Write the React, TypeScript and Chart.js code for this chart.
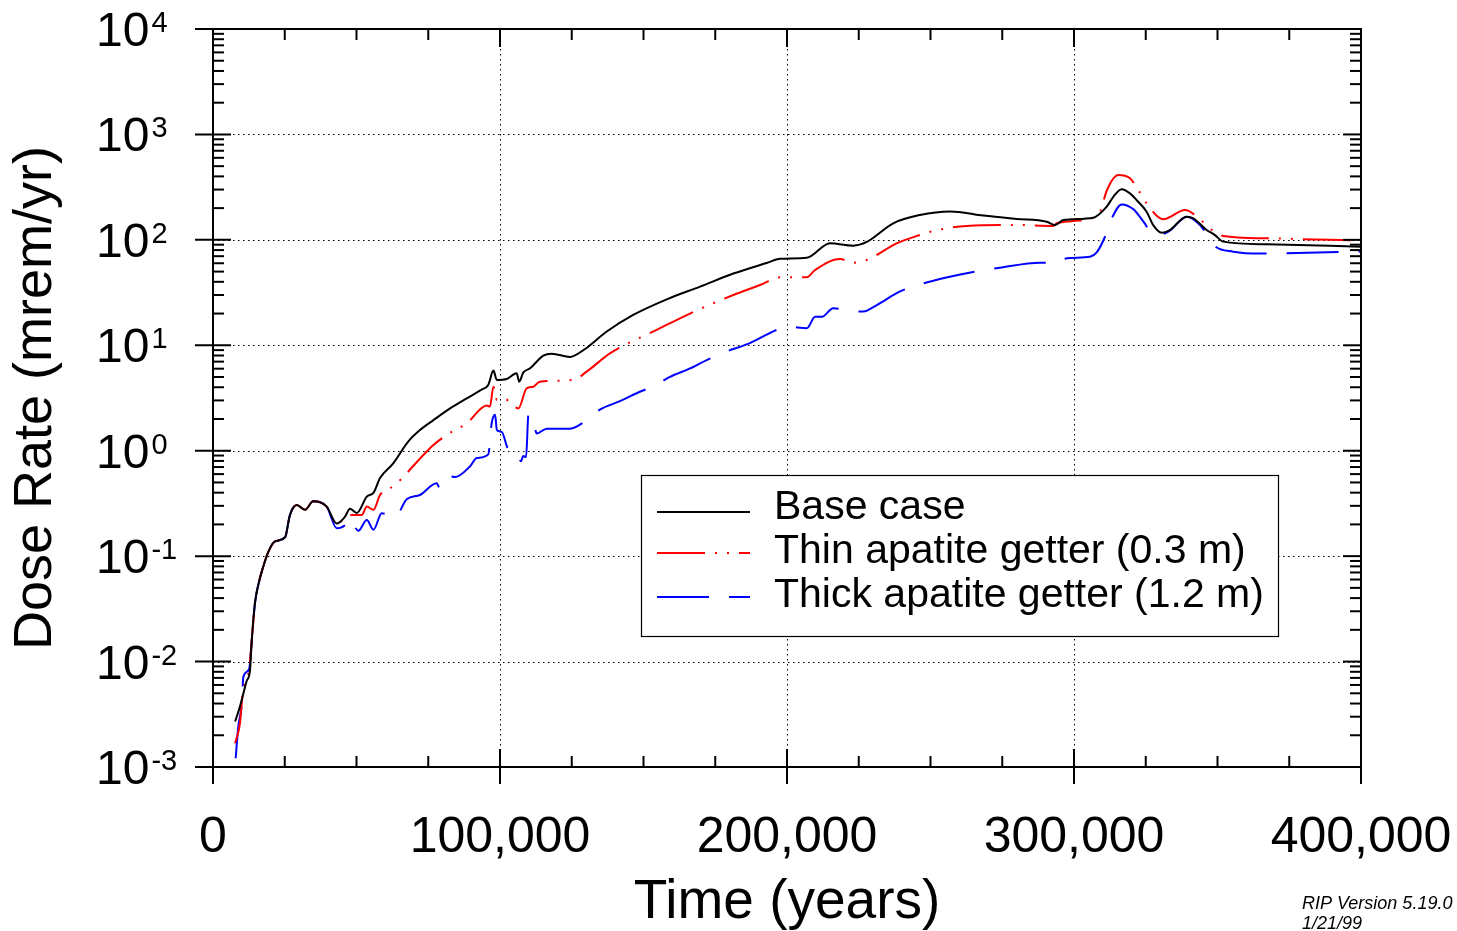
import React, { useEffect, useRef } from "react";
import { Chart, registerables } from "chart.js";

Chart.register(...registerables);

const FONT = '"Liberation Sans", Arial, Helvetica, sans-serif';

const xTickValues = [0, 100000, 200000, 300000, 400000];
const xMinorStep = 25000;
const yDecades = [-3, -2, -1, 0, 1, 2, 3, 4];
const seriesNames = ["Base case", "Thin apatite getter (0.3 m)", "Thick apatite getter (1.2 m)"];
const seriesColors = ["#000000", "#ff0000", "#0000ff"];
const seriesDashes: number[][] = [[], [48, 10, 2, 10, 2, 10], [52, 20]];
const footnoteLines = ["RIP Version 5.19.0", "1/21/99"];

const baseTime = [7700, 9200, 10600, 11700, 12900, 13500, 14600, 15800, 17500, 19300, 21600, 25100, 26800, 29200, 32100, 34900, 39600, 43100, 46000, 47700, 50100, 53600, 55900, 58200, 62800, 68000, 72100, 76800, 82600, 88400, 93600, 95900, 97700, 98900, 102300, 105800, 106700, 108100, 110500, 115100, 118000, 124400, 129000, 137200, 146400, 158100, 169700, 181300, 192900, 197600, 206900, 215000, 223100, 227800, 237000, 246300, 256800, 268400, 280000, 290500, 293400, 296300, 306700, 311400, 313700, 316600, 319500, 321800, 325300, 327600, 330600, 333400, 339300, 341600, 346200, 349100, 352000, 367100, 400000];
const baseDose = [0.0027, 0.0036, 0.005, 0.0065, 0.0083, 0.0158, 0.0355, 0.0537, 0.0794, 0.11, 0.138, 0.151, 0.245, 0.305, 0.275, 0.331, 0.295, 0.204, 0.237, 0.282, 0.257, 0.367, 0.398, 0.55, 0.759, 1.22, 1.57, 1.95, 2.52, 3.14, 3.8, 4.2, 5.75, 4.69, 4.79, 5.42, 4.52, 5.5, 6.05, 7.98, 8.32, 7.76, 8.97, 13.5, 19.4, 27.3, 36.0, 47.9, 60.3, 66.1, 67.6, 92.7, 88.1, 95.5, 143.6, 172.2, 186.2, 169.8, 157.8, 148.6, 138.4, 154.2, 162.2, 206.5, 256, 302, 276, 238.8, 185, 138, 116.9, 124, 166, 160, 124.2, 111, 96.2, 90.8, 86.1];

const thinTime = [7700, 9400, 10300, 12600, 13500, 14600, 15800, 17500, 19300, 21600, 25100, 26800, 29200, 32100, 34900, 39600, 43100, 46000, 48300, 51800, 53600, 55900, 58200, 63400, 73300, 76800, 81400, 88400, 95400, 96500, 97700, 98900, 101200, 106400, 109300, 111600, 113900, 125500, 130200, 138300, 154600, 166200, 181300, 190600, 197600, 206900, 209800, 218500, 223100, 227800, 238200, 246300, 251000, 262600, 280000, 292800, 294000, 299800, 306700, 309100, 311500, 315400, 319500, 322400, 325300, 331100, 338700, 343900, 348000, 352000, 367100, 400000];
const thinDose = [0.00168, 0.0026, 0.0048, 0.0085, 0.0158, 0.0355, 0.0537, 0.0794, 0.11, 0.138, 0.151, 0.245, 0.305, 0.275, 0.331, 0.295, 0.2, 0.23, 0.245, 0.245, 0.295, 0.275, 0.38, 0.473, 0.912, 1.13, 1.41, 1.82, 2.69, 2.62, 4.05, 3.03, 3.14, 2.52, 3.91, 4.05, 4.52, 4.69, 5.62, 8.39, 14.0, 20.0, 30.0, 37.3, 44.2, 44.2, 51.8, 65.8, 60.7, 64.4, 92.7, 111.2, 121.3, 135.5, 138.4, 135.5, 143.6, 151.0, 162.2, 184.9, 297, 412, 384, 297, 222, 156.7, 191.9, 156.7, 124.2, 108.9, 103.5, 98.4];

const thickTime = [7900, 8800, 10000, 10600, 12600, 13500, 14600, 15800, 17500, 19300, 21600, 25100, 26800, 29200, 32100, 34900, 39600, 43100, 46600, 47700, 50600, 53600, 55900, 58800, 63400, 67500, 72100, 77900, 79100, 82000, 84300, 89500, 91900, 95900, 97100, 98300, 98900, 100600, 102900, 105800, 107300, 108100, 109100, 109900, 111100, 112800, 116300, 124400, 130200, 134800, 141800, 147600, 154000, 159200, 166200, 172000, 177800, 187100, 196400, 200500, 206900, 209800, 212100, 216100, 223100, 226600, 231300, 239400, 251000, 262600, 274200, 288200, 294000, 297500, 305600, 307900, 310800, 313100, 316600, 320700, 324200, 327100, 329000, 332900, 339300, 343900, 349100, 355500, 364800, 400000];
const thickDose = [0.00121, 0.0024, 0.0039, 0.0072, 0.0085, 0.0158, 0.0355, 0.0537, 0.0794, 0.11, 0.138, 0.151, 0.245, 0.305, 0.275, 0.331, 0.295, 0.184, 0.204, 0.229, 0.174, 0.22, 0.178, 0.255, 0.234, 0.346, 0.38, 0.491, 0.44, 0.575, 0.562, 0.708, 0.851, 0.923, 1.82, 2.19, 1.57, 1.51, 1.05, 1.02, 0.794, 0.891, 0.871, 2.19, 2.19, 1.46, 1.62, 1.62, 1.95, 2.45, 2.95, 3.51, 4.17, 5.01, 6.03, 7.24, 8.51, 10.5, 14.0, 15.0, 14.5, 18.6, 18.6, 22.4, 21.1, 20.9, 24.1, 32.4, 41.0, 48.2, 54.5, 60.8, 60.3, 66.8, 69.2, 75.9, 107, 158.5, 217, 195, 148.6, 115.6, 112, 119.4, 166, 138.4, 87.1, 77.3, 74.1, 77.6];

const toPoints = (xs: number[], ys: number[]) => xs.map((x, i) => ({ x, y: ys[i] }));

const W = 1457;
const H = 931;

const decorPlugin = {
  id: "decor",
  beforeDatasetsDraw(chart: any) {
    const { ctx, chartArea } = chart;
    const { left, right, top, bottom } = chartArea;
    const xs = chart.scales.x;
    const ys = chart.scales.y;
    ctx.save();
    ctx.strokeStyle = "#000";
    ctx.lineWidth = 1;
    ctx.setLineDash([1.5, 3.5]);
    for (const d of yDecades) {
      const py = Math.round(ys.getPixelForValue(Math.pow(10, d))) + 0.5;
      if (py <= top + 2 || py >= bottom - 2) continue;
      ctx.beginPath();
      ctx.moveTo(left, py);
      ctx.lineTo(right, py);
      ctx.stroke();
    }
    for (const v of xTickValues) {
      const px = Math.round(xs.getPixelForValue(v)) + 0.5;
      if (px <= left + 2 || px >= right - 2) continue;
      ctx.beginPath();
      ctx.moveTo(px, top);
      ctx.lineTo(px, bottom);
      ctx.stroke();
    }
    ctx.restore();
  },
  afterDatasetsDraw(chart: any) {
    const { ctx, chartArea } = chart;
    const { left, right, top, bottom } = chartArea;
    const xs = chart.scales.x;
    const ys = chart.scales.y;
    const line = (x1: number, y1: number, x2: number, y2: number) => {
      ctx.beginPath();
      ctx.moveTo(x1, y1);
      ctx.lineTo(x2, y2);
      ctx.stroke();
    };
    ctx.save();
    ctx.setLineDash([]);
    ctx.strokeStyle = "#000";
    ctx.lineWidth = 2;
    ctx.strokeRect(left, top, right - left, bottom - top);

    for (const d of yDecades) {
      const py = ys.getPixelForValue(Math.pow(10, d));
      line(left - 18, py, left + 18, py);
      line(right - 18, py, right, py);
      if (d < 4) {
        for (let k = 2; k <= 9; k++) {
          const my = ys.getPixelForValue(k * Math.pow(10, d));
          line(left, my, left + 11, my);
          line(right - 11, my, right, my);
        }
      }
    }
    const xmin = xTickValues[0];
    const xmax = xTickValues[xTickValues.length - 1];
    for (let v = xmin; v <= xmax; v += xMinorStep) {
      const px = xs.getPixelForValue(v);
      if (xTickValues.includes(v)) {
        line(px, bottom - 18, px, bottom + 17);
        line(px, top, px, top + 18);
      } else {
        line(px, bottom - 11, px, bottom);
        line(px, top, px, top + 11);
      }
    }

    ctx.fillStyle = "#000";
    ctx.textBaseline = "alphabetic";
    ctx.textAlign = "left";
    for (const d of yDecades) {
      const py = ys.getPixelForValue(Math.pow(10, d));
      ctx.font = `48px ${FONT}`;
      const baseX = 96;
      ctx.fillText("10", baseX, py + 17);
      const w = ctx.measureText("10").width;
      ctx.font = `29px ${FONT}`;
      ctx.fillText(String(d), baseX + w + 2, py + 3);
    }

    const lx = 641.5, ly = 475.5, lw = 637, lh = 161;
    ctx.fillStyle = "#fff";
    ctx.fillRect(lx, ly, lw, lh);
    ctx.lineWidth = 1.2;
    ctx.strokeStyle = "#000";
    ctx.strokeRect(lx, ly, lw, lh);
    const rowY = [508, 552, 596];
    const lineY = [512, 553, 597];
    for (let i = 0; i < seriesNames.length; i++) {
      ctx.save();
      ctx.strokeStyle = seriesColors[i];
      ctx.lineWidth = 2;
      ctx.setLineDash(seriesDashes[i]);
      line(657, lineY[i], 750, lineY[i]);
      ctx.restore();
      ctx.fillStyle = "#000";
      ctx.font = `41px ${FONT}`;
      ctx.textBaseline = "middle";
      ctx.fillText(seriesNames[i], 774, rowY[i]);
    }

    ctx.font = `italic 18px ${FONT}`;
    ctx.textBaseline = "alphabetic";
    ctx.fillStyle = "#000";
    ctx.fillText(footnoteLines[0], 1302, 909);
    ctx.fillText(footnoteLines[1], 1302, 929);
    ctx.restore();
  },
};

export default function App() {
  const canvasRef = useRef<HTMLCanvasElement | null>(null);

  useEffect(() => {
    const canvas = canvasRef.current;
    if (!canvas) return;
    const datasets = [
      toPoints(baseTime, baseDose),
      toPoints(thinTime, thinDose),
      toPoints(thickTime, thickDose),
    ].map((data, i) => ({
      label: seriesNames[i],
      data,
      borderColor: seriesColors[i],
      backgroundColor: seriesColors[i],
      borderWidth: 2,
      borderDash: seriesDashes[i],
      pointRadius: 0,
      cubicInterpolationMode: "monotone",
      fill: false,
    }));

    const chart = new Chart(canvas, {
      type: "line",
      data: { datasets },
      options: {
        animation: false,
        responsive: false,
        devicePixelRatio: 1,
        layout: { padding: { top: 29, right: 96, left: 0, bottom: 0 } },
        plugins: { legend: { display: false }, tooltip: { enabled: false } },
        scales: {
          x: {
            type: "linear",
            position: "bottom",
            min: 0,
            max: 400000,
            grid: { display: false, drawTicks: false },
            border: { display: false },
            ticks: {
              stepSize: 100000,
              autoSkip: false,
              maxRotation: 0,
              padding: 41,
              color: "#000",
              font: { family: FONT, size: 50 },
              callback: (v: any) => Number(v).toLocaleString("en-US"),
            },
            title: {
              display: true,
              text: "Time (years)",
              color: "#000",
              font: { family: FONT, size: 55, lineHeight: 1 },
              padding: { top: 0, bottom: 1 },
            },
            afterFit: (s: any) => {
              s.height = 164;
              s.paddingLeft = 0;
              s.paddingRight = 0;
            },
          },
          y: {
            type: "logarithmic",
            position: "left",
            min: 0.001,
            max: 10000,
            grid: { display: false, drawTicks: false },
            border: { display: false },
            ticks: { display: false },
            title: {
              display: true,
              text: "Dose Rate (mrem/yr)",
              color: "#000",
              font: { family: FONT, size: 54, lineHeight: 1 },
              padding: { top: 9, bottom: 0 },
            },
            afterFit: (s: any) => {
              s.width = 213;
              s.paddingTop = 0;
              s.paddingBottom = 0;
            },
          },
        },
      },
      plugins: [decorPlugin],
    } as any);

    return () => chart.destroy();
  }, []);

  return (
    <div style={{ position: "absolute", left: 0, top: 0, width: W, height: H, background: "#fff" }}>
      <canvas ref={canvasRef} width={W} height={H} style={{ display: "block" }} />
    </div>
  );
}
